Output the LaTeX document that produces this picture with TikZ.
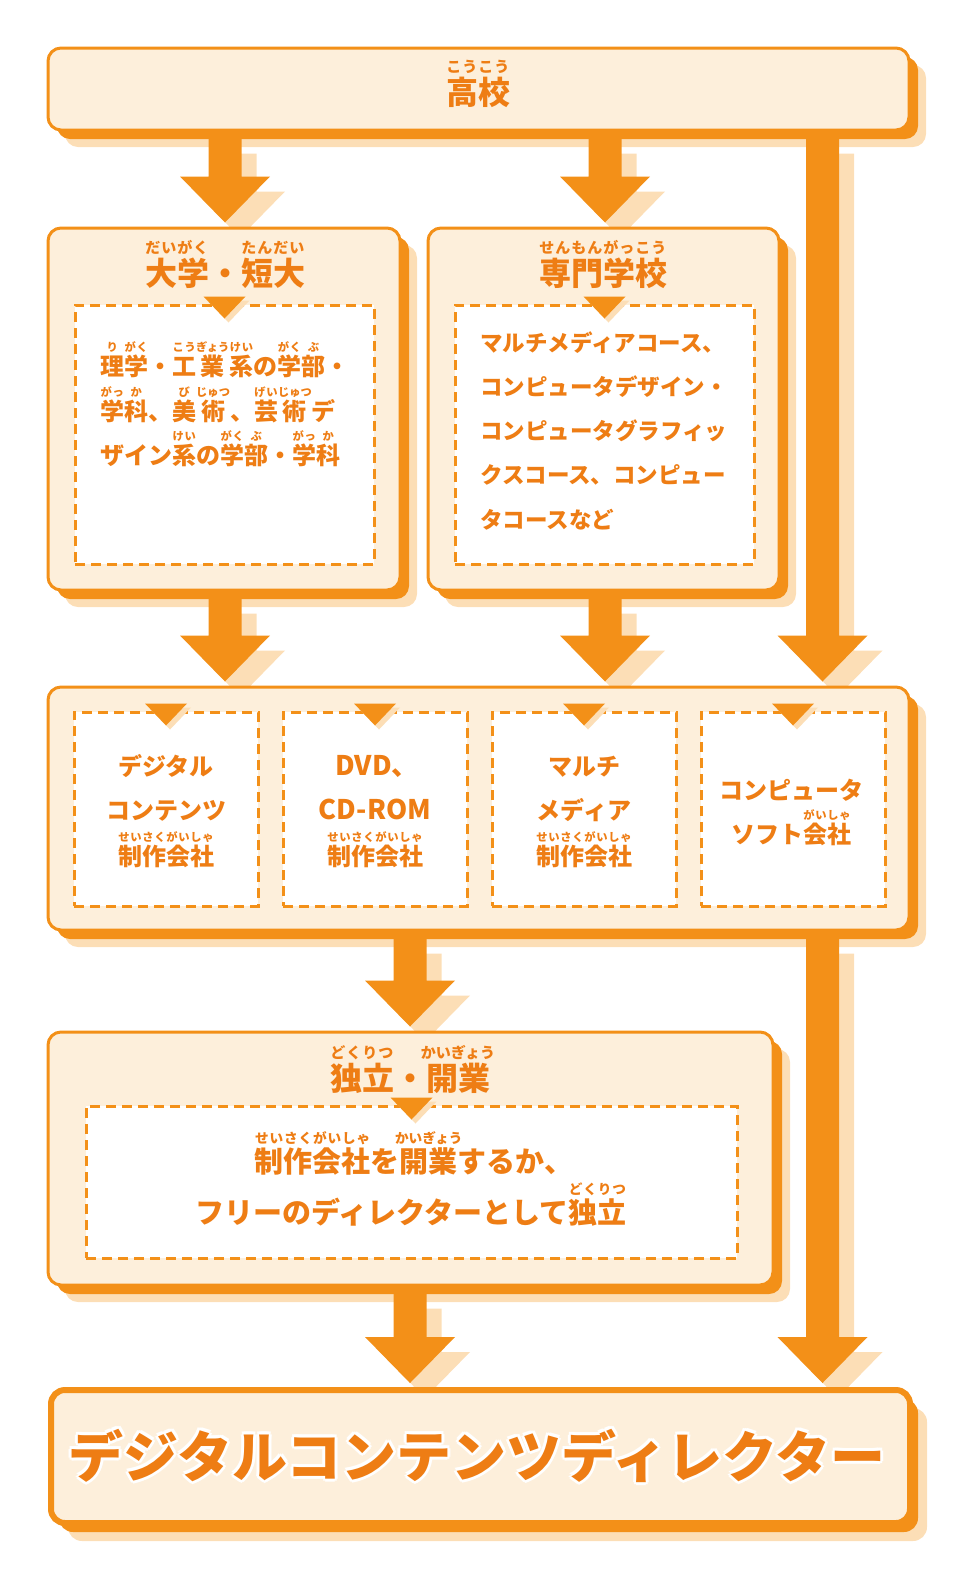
\documentclass[tikz,border=0pt]{standalone}
\usepackage{fontspec}
\newfontfamily\jp{Noto Sans CJK JP}
\usetikzlibrary{calc,shadows}
\pgfdeclarelayer{background}
\pgfsetlayers{background,main}

\definecolor{orangec}{HTML}{F39018}
\definecolor{textc}{HTML}{EE7D14}
\definecolor{fillc}{HTML}{FDEFDB}
\definecolor{palec}{HTML}{FCDEB6}

% ruby: base #1, reading #2 (spread 1:2:1; widens the base if longer, unless \rbwidenfalse)
\newsavebox\rbbase
\newsavebox\rbtop
\newlength\rbsz
\newif\ifrbwiden \rbwidentrue
\def\rbgobble#1{}
\def\rbloop#1#2{#1\ifx\relax#2\expandafter\rbgobble\else\hskip0pt plus2fil\relax\expandafter\rbloop\fi#2}
\newcommand\rb[2]{{%
  \setlength\rbsz{0.47em}%
  \sbox\rbbase{#1}%
  \sbox\rbtop{\fontsize{\rbsz}{\rbsz}\selectfont #2}%
  \ifdim\wd\rbtop>\wd\rbbase
    \ifrbwiden
      \sbox\rbbase{\hbox to\wd\rbtop{\hss#1\hss}}%
      \rlap{\raise1em\hbox to\wd\rbbase{\usebox\rbtop}}%
    \else
      \rlap{\raise1em\hbox to\wd\rbbase{\hss\usebox\rbtop\hss}}%
    \fi
  \else
    \rlap{\raise1em\hbox to\wd\rbbase{\fontsize{\rbsz}{\rbsz}\selectfont\hskip0pt plus1fil\relax\rbloop#2\relax\hskip0pt plus1fil\relax}}%
  \fi
  \usebox\rbbase}}

% white outline round a text
\newcommand\hcopy[3]{\rlap{\kern#1\raise#2\hbox{\color{white}#3}}}
\newcommand\halo[2]{\leavevmode
  \hcopy{#1}{0pt}{#2}\hcopy{-#1}{0pt}{#2}\hcopy{0pt}{#1}{#2}\hcopy{0pt}{-#1}{#2}%
  \hcopy{\dimexpr#1*7/10\relax}{\dimexpr#1*7/10\relax}{#2}%
  \hcopy{-\dimexpr#1*7/10\relax}{\dimexpr#1*7/10\relax}{#2}%
  \hcopy{\dimexpr#1*7/10\relax}{-\dimexpr#1*7/10\relax}{#2}%
  \hcopy{-\dimexpr#1*7/10\relax}{-\dimexpr#1*7/10\relax}{#2}%
  #2}

\tikzset{
  box/.style={draw=orangec, line width=3pt, fill=fillc, rounded corners=13pt, inner sep=0pt,
    general shadow={fill=palec, shadow xshift=17pt, shadow yshift=-17pt},
    general shadow={fill=orangec, shadow xshift=9pt, shadow yshift=-9pt}},
  bigbox/.style={draw=orangec, line width=6pt, fill=fillc, rounded corners=14pt, inner sep=0pt,
    general shadow={fill=palec, shadow xshift=17pt, shadow yshift=-18pt},
    general shadow={fill=orangec, shadow xshift=8pt, shadow yshift=-9pt}},
  dbox/.style={draw=orangec, line width=3pt, fill=white, dash pattern=on 10pt off 6pt, inner sep=0pt},
  ttl/.style={text=textc, font=\jp\bfseries\fontsize{32}{32}\selectfont\rbwidenfalse, inner sep=0pt, anchor=base},
  txt/.style={text=textc, font=\jp\bfseries\fontsize{24}{24}\selectfont, inner sep=0pt, anchor=base},
  big/.style={text=textc, font=\jp\bfseries\fontsize{55}{55}\selectfont, inner sep=0pt, anchor=base},
}

\def\arrowpath{([xshift=-16.5pt]as) -- ([xshift=-16.5pt]ah) -- ([xshift=-45pt]ah) -- (ae)
  -- ([xshift=45pt]ah) -- ([xshift=16.5pt]ah) -- ([xshift=16.5pt]as) -- cycle}
\newcommand\fatarrow[3]{%
  \coordinate (as) at ($(#1.south -| #3)+(0,-7)$);
  \coordinate (ae) at ($(#2.north -| #3)+(0,4)$);
  \coordinate (ah) at ($(ae)+(0,46)$);
  \begin{pgfonlayer}{background}
    \fill[palec, transform canvas={shift={(15pt,-15pt)}}] \arrowpath;
  \end{pgfonlayer}
  \fill[orangec] \arrowpath;}
\newcommand\tri[1]{%
  \fill[palec] ($(#1.north)+(-17,3)$) -- ($(#1.north)+(25,3)$) -- ($(#1.north)+(4,-19)$) -- cycle;
  \fill[orangec] ($(#1.north)+(-21,7)$) -- ($(#1.north)+(21,7)$) -- ($(#1.north)+(0,-15)$) -- cycle;}

\begin{document}
\begin{tikzpicture}[x=1pt,y=1pt]
\useasboundingbox (0,0) rectangle (960,-1575);

% columns of the arrows
\coordinate (cL) at (225,0);
\coordinate (cM) at (605,0);
\coordinate (cR) at (822.5,0);
\coordinate (cD) at (410,0);

% boxes
\node[box, minimum width=861pt, minimum height=82pt] (koko) at (478.5,-89) {};
\node[box, minimum width=352pt, minimum height=362pt] (daigaku) at (224,-409) {};
\node[box, minimum width=351pt, minimum height=362pt] (senmon) at (603.5,-409) {};
\node[box, minimum width=861pt, minimum height=243pt] (kaisha) at (478.5,-808.5) {};
\node[box, minimum width=725pt, minimum height=253pt] (dokuritsu) at (410.5,-1158.5) {};
\node[bigbox, minimum width=859pt, minimum height=133pt] (director) at (480.5,-1456.5) {};

% dashed inner boxes
\node[dbox, minimum width=299pt, minimum height=259pt] (dgbox) at (224.5,-434.5) {};
\node[dbox, minimum width=299pt, minimum height=259pt] (smbox) at (604.5,-434.5) {};
\foreach \i/\x in {1/166,2/375,3/584,4/793}
  \node[dbox, minimum width=184pt, minimum height=194pt] (k\i) at (\x,-809) {};
\node[dbox, minimum width=651pt, minimum height=152pt] (dkbox) at (411.5,-1182) {};

\foreach \n in {dgbox,smbox,k1,k2,k3,k4,dkbox} {\tri{\n}}

% titles
\node[ttl] (kokot) at (478,-104) {\rb{高校}{こうこう}};
\node[ttl] (dgt) at (225,-285) {\rb{大学}{だいがく}・\rb{短大}{たんだい}};
\node[ttl] (smt) at (603,-285) {\rb{専門学校}{せんもんがっこう}};
\node[ttl] (dkt) at (410,-1090) {\rb{独立}{どくりつ}・\rb{開業}{かいぎょう}};

% texts
\node[txt, anchor=base west] (dg1) at (100,-375) {\rb{理}{り}\rb{学}{がく}・\rb{工}{こう}\rb{業}{ぎょう}\rb{系}{けい}の\rb{学}{がく}\rb{部}{ぶ}・};
\node[txt, anchor=base west] (dg2) at (100,-420) {\rb{学}{がっ}\rb{科}{か}、\rb{美}{び}\rb{術}{じゅつ}、\rb{芸}{げい}\rb{術}{じゅつ}デ};
\node[txt, anchor=base west] (dg3) at (100,-464) {ザイン\rb{系}{けい}の\rb{学}{がく}\rb{部}{ぶ}・\rb{学}{がっ}\rb{科}{か}};

\tikzset{smtxt/.style={txt, font=\jp\bfseries\fontsize{22.5}{22.5}\selectfont, anchor=base west}}
\node[smtxt] (sm1) at (480,-351) {マルチメディアコース、};
\node[smtxt] (sm2) at (480,-395) {コンピュータデザイン・};
\node[smtxt] (sm3) at (480,-439) {コンピュータグラフィッ};
\node[smtxt] (sm4) at (480,-483) {クスコース、コンピュー};
\node[smtxt] (sm5) at (480,-528) {タコースなど};

\tikzset{latin/.style={txt, font=\jp\bfseries\fontsize{27}{27}\selectfont}}
\node[txt] (k1a) at (166,-775) {デジタル};
\node[txt] (k1b) at (166,-819) {コンテンツ};
\node[txt] (k1c) at (166,-865) {\rb{制作会社}{せいさくがいしゃ}};
\node[latin] (k2a) at (377,-775) {DVD、};
\node[latin] (k2b) at (375,-819) {CD-ROM};
\node[txt] (k2c) at (375,-865) {\rb{制作会社}{せいさくがいしゃ}};
\node[txt] (k3a) at (584,-775) {マルチ};
\node[txt] (k3b) at (584,-819) {メディア};
\node[txt] (k3c) at (584,-865) {\rb{制作会社}{せいさくがいしゃ}};
\node[txt] (k4a) at (791,-799) {コンピュータ};
\node[txt] (k4b) at (791,-843) {ソフト\rb{会社}{がいしゃ}};

\tikzset{dktxt/.style={txt, font=\jp\bfseries\fontsize{29}{29}\selectfont\rbwidenfalse}}
\node[dktxt] (dk1) at (414,-1172) {\rb{制作会社}{せいさくがいしゃ}を\rb{開業}{かいぎょう}するか、};
\node[dktxt] (dk2) at (411,-1223) {フリーのディレクターとして\rb{独立}{どくりつ}};

\node[big] (dirt) at (477,-1477) {\halo{3pt}{デジタルコンテンツディレクター}};

% arrows
\fatarrow{koko}{daigaku}{cL}
\fatarrow{koko}{senmon}{cM}
\fatarrow{koko}{kaisha}{cR}
\fatarrow{daigaku}{kaisha}{cL}
\fatarrow{senmon}{kaisha}{cM}
\fatarrow{kaisha}{dokuritsu}{cD}
\fatarrow{kaisha}{director}{cR}
\fatarrow{dokuritsu}{director}{cD}

\end{tikzpicture}
\end{document}
